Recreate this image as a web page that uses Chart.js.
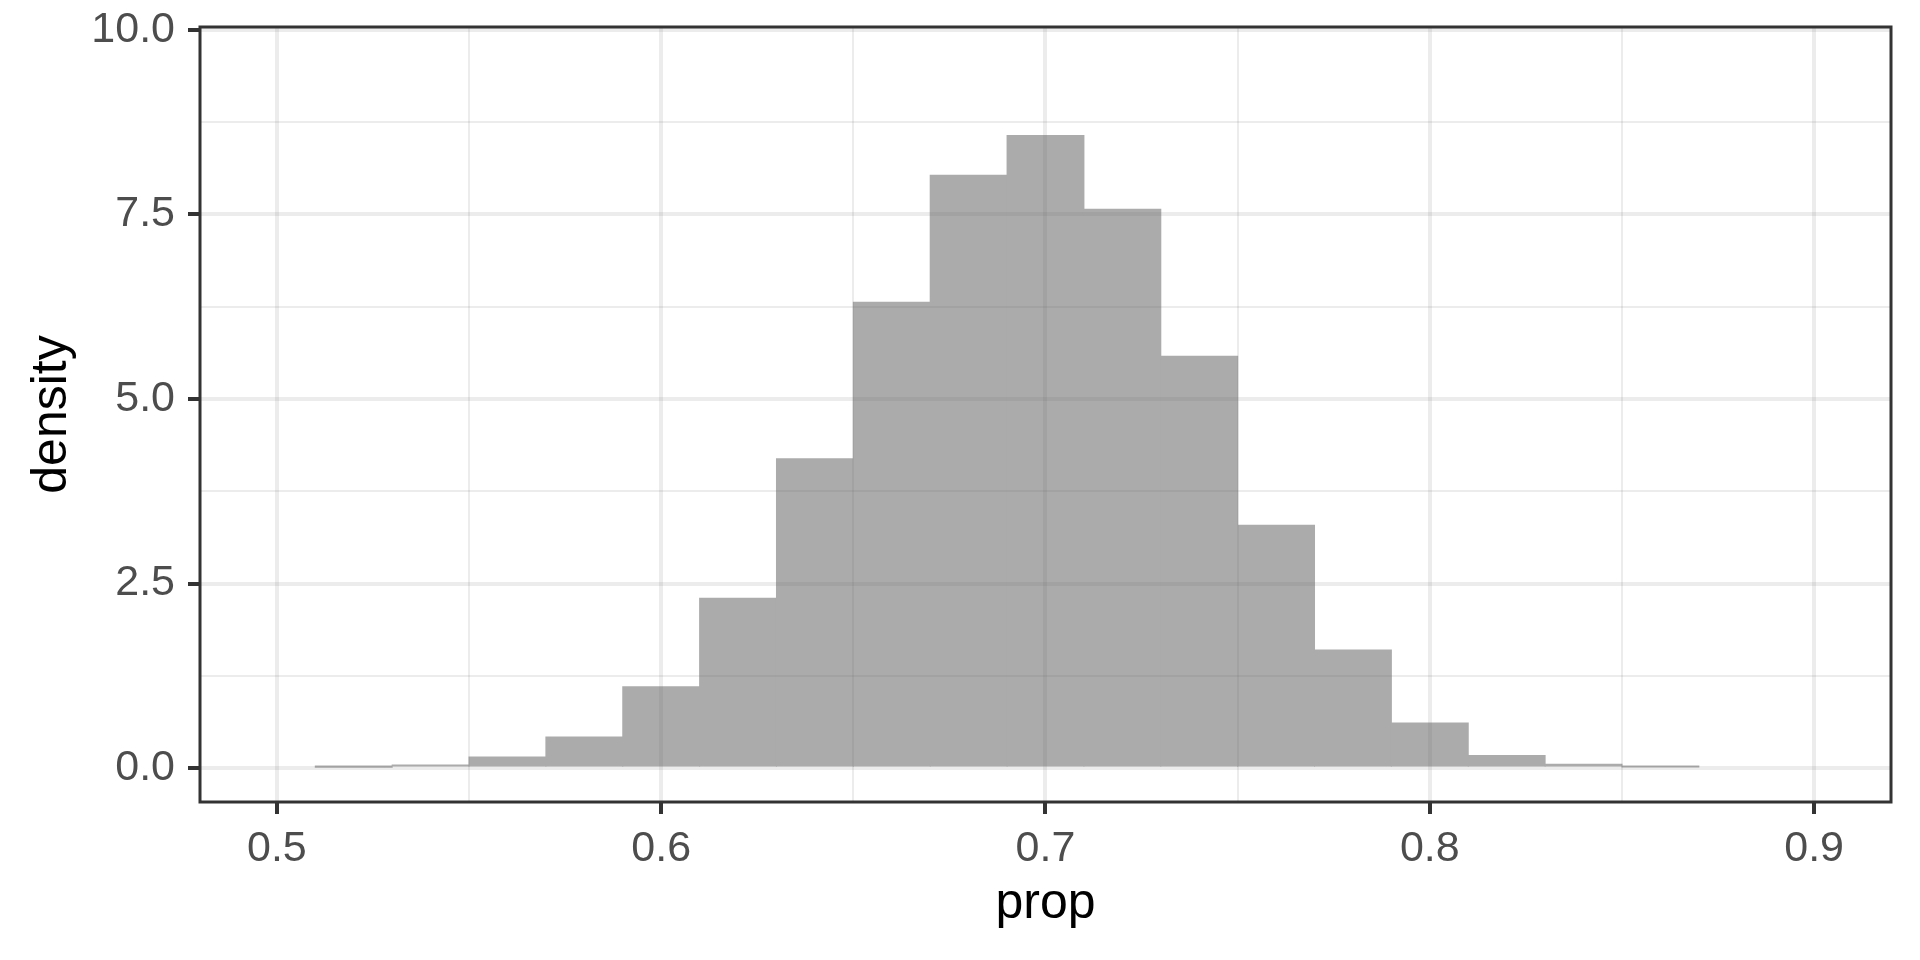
<!DOCTYPE html>
<html>
<head>
<meta charset="utf-8">
<script src="https://cdn.jsdelivr.net/npm/chart.js@4"></script>
<style>
  html, body { margin: 0; padding: 0; background: #fff; }
  #wrap { width: 1920px; height: 960px; }
</style>
</head>
<body>
<div id="wrap"><canvas id="c" width="1920" height="960"></canvas></div>
<script>
const binCenters = [0.52, 0.54, 0.56, 0.58, 0.60, 0.62, 0.64, 0.66, 0.68, 0.70, 0.72, 0.74, 0.76, 0.78, 0.80, 0.82, 0.84, 0.86];
const density = [0.01, 0.04, 0.15, 0.42, 1.10, 2.30, 4.19, 6.31, 8.03, 8.57, 7.57, 5.58, 3.29, 1.60, 0.61, 0.17, 0.05, 0.015];
const xTicks = [0.5, 0.55, 0.6, 0.65, 0.7, 0.75, 0.8, 0.85, 0.9];
const yTicks = [0, 1.25, 2.5, 3.75, 5, 6.25, 7.5, 8.75, 10];

const isMajor = v => Math.abs(v * 20 - Math.round(v * 20)) < 1e-6 && Math.round(v * 20) % 2 === 0;
const isMajorY = v => Math.abs(v / 2.5 - Math.round(v / 2.5)) < 1e-6;
const tv = c => (c && c.tick) ? c.tick.value : null;

// grey that reads as #EBEBEB on white and darker through the bars
const gridCol = 'rgba(102,102,102,0.125)';

const panelBorder = {
  id: 'panelBorder',
  afterDraw(chart) {
    const { ctx, chartArea: a } = chart;
    ctx.save();
    ctx.strokeStyle = '#333333';
    ctx.lineWidth = 3;
    ctx.strokeRect(a.left, a.top, a.right - a.left, a.bottom - a.top);
    ctx.restore();
  }
};

new Chart(document.getElementById('c').getContext('2d'), {
  type: 'bar',
  data: {
    datasets: [{
      data: binCenters.map((x, i) => ({ x: x, y: density[i] })),
      backgroundColor: '#ABABAB',
      borderWidth: 0,
      inflateAmount: 0.5,
      barPercentage: 1,
      categoryPercentage: 1
    }]
  },
  options: {
    responsive: false,
    animation: false,
    layout: { padding: { top: 27, right: 29, bottom: 0, left: 0 } },
    plugins: { legend: { display: false }, tooltip: { enabled: false } },
    scales: {
      x: {
        type: 'linear',
        offset: false,
        min: 0.48,
        max: 0.92,
        afterBuildTicks: s => { s.ticks = xTicks.map(v => ({ value: v })); },
        afterFit: s => { s.height = 158; s.paddingLeft = 0; s.paddingRight = 0; },
        border: { display: false },
        grid: {
          z: 1,
          offset: false,
          color: gridCol,
          lineWidth: c => { const v = tv(c); return v !== null && isMajor(v) ? 4 : 2; },
          tickColor: c => { const v = tv(c); return v !== null && isMajor(v) ? '#333333' : 'rgba(0,0,0,0)'; },
          tickWidth: 4,
          tickLength: 12
        },
        ticks: {
          autoSkip: false,
          maxRotation: 0,
          padding: 9,
          color: '#4D4D4D',
          font: { family: 'Liberation Sans', size: 43 },
          callback: v => isMajor(v) ? v.toFixed(1) : ''
        },
        title: {
          display: true,
          text: 'prop',
          color: '#000000',
          font: { family: 'Liberation Sans', size: 50 },
          padding: { top: 0, bottom: 26 }
        }
      },
      y: {
        min: -0.46,
        max: 10.04,
        afterBuildTicks: s => { s.ticks = yTicks.map(v => ({ value: v })); },
        afterFit: s => { s.width = 200; s.paddingTop = 0; s.paddingBottom = 0; },
        border: { display: false },
        grid: {
          z: 1,
          color: gridCol,
          lineWidth: c => { const v = tv(c); return v !== null && isMajorY(v) ? 4 : 2; },
          tickColor: c => { const v = tv(c); return v !== null && isMajorY(v) ? '#333333' : 'rgba(0,0,0,0)'; },
          tickWidth: 4,
          tickLength: 12
        },
        ticks: {
          padding: 13,
          color: '#4D4D4D',
          font: { family: 'Liberation Sans', size: 43 },
          callback: v => isMajorY(v) ? v.toFixed(1) : ''
        },
        title: {
          display: true,
          text: 'density',
          color: '#000000',
          font: { family: 'Liberation Sans', size: 50 },
          padding: { top: 22, bottom: 0 }
        }
      }
    }
  },
  plugins: [panelBorder]
});
</script>
</body>
</html>
